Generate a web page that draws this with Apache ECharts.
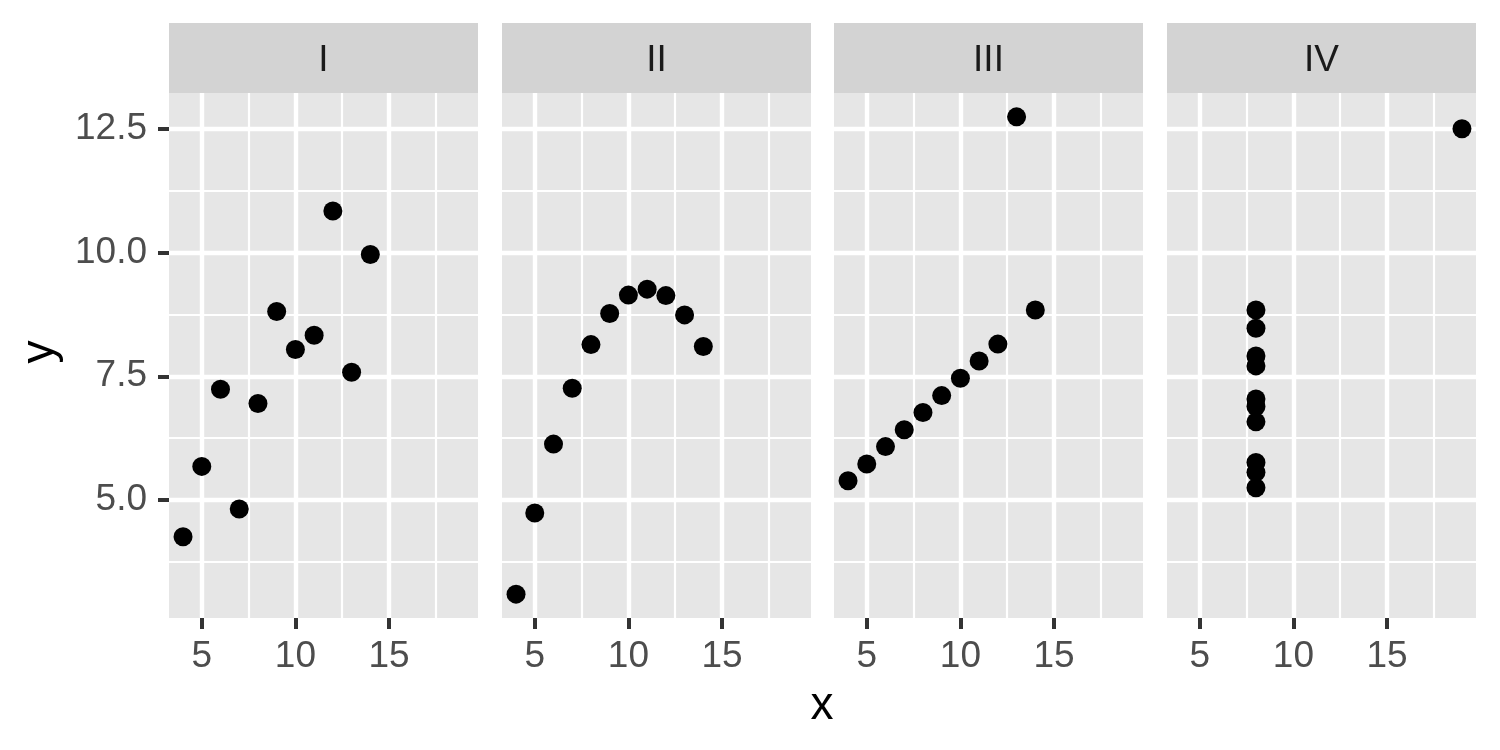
<!DOCTYPE html>
<html>
<head>
<meta charset="utf-8">
<script src="https://cdn.jsdelivr.net/npm/echarts@6/dist/echarts.min.js"></script>
<style>html,body{margin:0;padding:0;background:#fff;}#c{width:1500px;height:750px;}</style>
</head>
<body>
<div id="c"></div>
<script>
// Anscombe's quartet
const panels = ['I', 'II', 'III', 'IV'];
const x123 = [10, 8, 13, 9, 11, 14, 6, 4, 12, 7, 5];
const x4 = [8, 8, 8, 8, 8, 8, 8, 19, 8, 8, 8];
const y1 = [8.04, 6.95, 7.58, 8.81, 8.33, 9.96, 7.24, 4.26, 10.84, 4.82, 5.68];
const y2 = [9.14, 8.14, 8.74, 8.77, 9.26, 8.10, 6.13, 3.10, 9.13, 7.26, 4.74];
const y3 = [7.46, 6.77, 12.74, 7.11, 7.81, 8.84, 6.08, 5.39, 8.15, 6.42, 5.73];
const y4 = [6.58, 5.76, 7.71, 8.84, 8.47, 7.04, 5.25, 12.50, 5.56, 7.91, 6.89];
const xTicks = [5, 10, 15];
const xMinor = [7.5, 12.5, 17.5];
const yTicks = [5, 7.5, 10, 12.5];
const yMinor = [3.75, 6.25, 8.75, 11.25];

const xs = [x123, x123, x123, x4];
const ys = [y1, y2, y3, y4];

const xMin = 3.25, xMax = 19.75;
const yMin = 2.618, yMax = 13.222;

const panelLefts = [169, 502, 834, 1167];
const pw = 309, panelTop = 93, ph = 525;
const font = 'Liberation Sans, Arial, Helvetica, sans-serif';

const grids = [], xAxes = [], yAxes = [], series = [], graphics = [];
panels.forEach((p, i) => {
  grids.push({left: panelLefts[i], top: panelTop, width: pw, height: ph, show: true,
    backgroundColor: '#E6E6E6', borderWidth: 0, containLabel: false});
  xAxes.push({type: 'value', gridIndex: i, min: xMin, max: xMax,
    axisLine: {show: false}, splitLine: {show: false},
    axisTick: {show: true, customValues: xTicks, length: 11, lineStyle: {color: '#333333', width: 4}},
    axisLabel: {show: true, customValues: xTicks, color: '#4D4D4D', fontSize: 37, fontFamily: font, margin: 20}});
  yAxes.push({type: 'value', gridIndex: i, min: yMin, max: yMax,
    axisLine: {show: false}, splitLine: {show: false},
    axisTick: {show: i === 0, customValues: yTicks, length: 11, lineStyle: {color: '#333333', width: 4}},
    axisLabel: {show: i === 0, customValues: yTicks, color: '#4D4D4D', fontSize: 37, fontFamily: font, margin: 22,
      formatter: v => v.toFixed(1)}});
  const ml = [];
  xMinor.forEach(v => ml.push({xAxis: v, lineStyle: {width: 2.2}}));
  yMinor.forEach(v => ml.push({yAxis: v, lineStyle: {width: 2.2}}));
  xTicks.forEach(v => ml.push({xAxis: v, lineStyle: {width: 4.4}}));
  yTicks.forEach(v => ml.push({yAxis: v, lineStyle: {width: 4.4}}));
  series.push({type: 'line', xAxisIndex: i, yAxisIndex: i, data: [], z: 1, silent: true,
    markLine: {silent: true, symbol: ['none', 'none'], animation: false, label: {show: false},
      lineStyle: {color: '#FFFFFF', type: 'solid', opacity: 1}, emphasis: {disabled: true}, data: ml}});
  series.push({type: 'scatter', xAxisIndex: i, yAxisIndex: i, z: 10, symbolSize: 19,
    itemStyle: {color: '#000000', opacity: 1}, emphasis: {disabled: true},
    data: xs[i].map((x, k) => [x, ys[i][k]])});
  graphics.push({type: 'rect', shape: {x: panelLefts[i], y: 23, width: pw, height: 70},
    style: {fill: '#D3D3D3'}, silent: true});
  graphics.push({type: 'text', x: panelLefts[i] + pw / 2, y: 61,
    style: {text: p, fill: '#1A1A1A', font: '37px ' + font, textAlign: 'center', textVerticalAlign: 'middle'}});
});
graphics.push({type: 'text', x: 822, y: 706,
  style: {text: 'x', fill: '#000000', font: '46px ' + font, textAlign: 'center', textVerticalAlign: 'middle'}});
graphics.push({type: 'text', x: 40, y: 352, rotation: Math.PI / 2,
  style: {text: 'y', fill: '#000000', font: '46px ' + font, textAlign: 'center', textVerticalAlign: 'middle'}});

const chart = echarts.init(document.getElementById('c'), null, {renderer: 'canvas'});
chart.setOption({
  animation: false,
  backgroundColor: '#FFFFFF',
  grid: grids, xAxis: xAxes, yAxis: yAxes, series: series, graphic: graphics
});
</script>
</body>
</html>
